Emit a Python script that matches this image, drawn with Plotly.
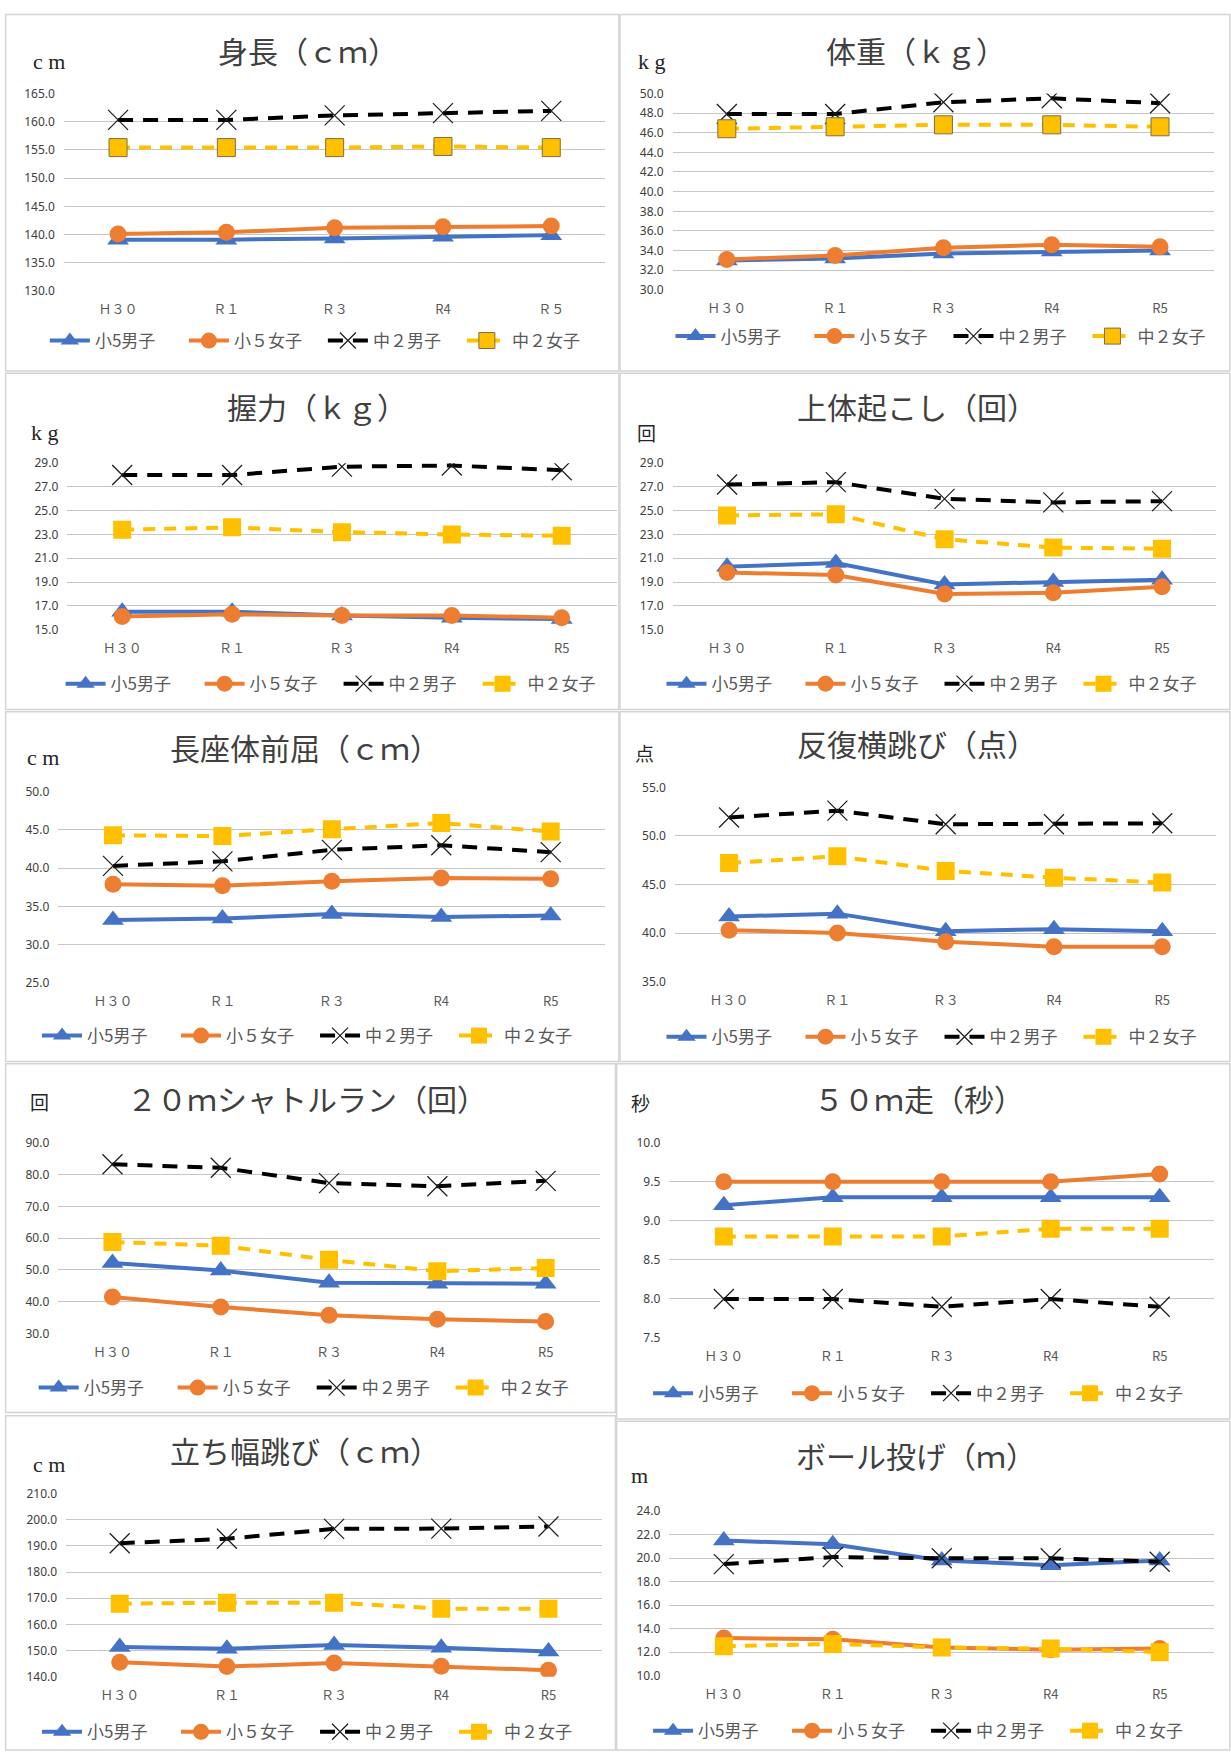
import plotly.graph_objects as go

# ---------------------------------------------------------------------------
# Data: 体力・運動能力調査の推移（学年・性別ごと）
# ---------------------------------------------------------------------------
YEARS = ["Ｈ３０", "Ｒ１", "Ｒ３", "R4", "R5"]
YEARS_HEIGHT = ["Ｈ３０", "Ｒ１", "Ｒ３", "R4", "Ｒ５"]
GROUPS = ["小5男子", "小５女子", "中２男子", "中２女子"]

height_cm = {
    "小5男子": [139.1, 139.1, 139.3, 139.6, 139.9],
    "小５女子": [140.1, 140.4, 141.2, 141.4, 141.5],
    "中２男子": [160.3, 160.3, 161.1, 161.5, 161.9],
    "中２女子": [155.4, 155.4, 155.4, 155.6, 155.4],
}
weight_kg = {
    "小5男子": [33.0, 33.2, 33.7, 33.9, 34.0],
    "小５女子": [33.1, 33.5, 34.3, 34.6, 34.4],
    "中２男子": [47.9, 47.9, 49.1, 49.5, 49.0],
    "中２女子": [46.4, 46.6, 46.8, 46.8, 46.6],
}
grip_kg = {
    "小5男子": [16.5, 16.5, 16.2, 16.0, 15.9],
    "小５女子": [16.1, 16.3, 16.2, 16.2, 16.0],
    "中２男子": [28.0, 28.0, 28.7, 28.8, 28.4],
    "中２女子": [23.4, 23.6, 23.2, 23.0, 22.9],
}
situps = {
    "小5男子": [20.3, 20.6, 18.8, 19.0, 19.2],
    "小５女子": [19.8, 19.6, 18.0, 18.1, 18.6],
    "中２男子": [27.2, 27.4, 26.0, 25.7, 25.8],
    "中２女子": [24.6, 24.7, 22.6, 21.9, 21.8],
}
sit_and_reach_cm = {
    "小5男子": [33.2, 33.4, 34.0, 33.6, 33.8],
    "小５女子": [37.9, 37.7, 38.3, 38.7, 38.6],
    "中２男子": [40.3, 40.9, 42.4, 43.0, 42.1],
    "中２女子": [44.3, 44.2, 45.1, 45.9, 44.8],
}
side_step = {
    "小5男子": [41.7, 42.0, 40.2, 40.4, 40.2],
    "小５女子": [40.3, 40.0, 39.1, 38.6, 38.6],
    "中２男子": [51.9, 52.6, 51.2, 51.2, 51.3],
    "中２女子": [47.2, 47.9, 46.4, 45.7, 45.2],
}
shuttle_run = {
    "小5男子": [52.2, 49.8, 46.0, 45.7, 45.7],
    "小５女子": [41.5, 38.4, 35.8, 34.5, 33.8],
    "中２男子": [83.2, 82.1, 77.3, 76.3, 78.0],
    "中２女子": [58.8, 57.6, 53.2, 49.6, 50.6],
}
dash_50m_sec = {
    "小5男子": [9.2, 9.3, 9.3, 9.3, 9.3],
    "小５女子": [9.5, 9.5, 9.5, 9.5, 9.6],
    "中２男子": [8.0, 8.0, 7.9, 8.0, 7.9],
    "中２女子": [8.8, 8.8, 8.8, 8.9, 8.9],
}
long_jump_cm = {
    "小5男子": [151.4, 150.7, 152.1, 151.1, 149.6],
    "小５女子": [145.5, 143.9, 145.2, 144.0, 142.5],
    "中２男子": [191.0, 192.7, 196.5, 196.6, 197.4],
    "中２女子": [167.9, 168.3, 168.3, 166.0, 166.0],
}
ball_throw_m = {
    "小5男子": [21.5, 21.2, 19.8, 19.4, 19.8],
    "小５女子": [13.2, 13.1, 12.4, 12.2, 12.3],
    "中２男子": [19.5, 20.1, 20.0, 20.0, 19.7],
    "中２女子": [12.5, 12.7, 12.4, 12.3, 12.0],
}

# ---------------------------------------------------------------------------
# Panel definitions: title, unit label, data, axis range, placement
# placement values are in a 1098 x 1568 layout grid (converted to paper units)
# ---------------------------------------------------------------------------
GRID_W, GRID_H = 1098, 1568


def gx(v):
    return v / GRID_W


def gy(v):
    return 1 - v / GRID_H


panels = [
    dict(title="身長（ｃｍ）", unit="c m", unit_serif=True, data=height_cm, cats=YEARS_HEIGHT,
         yr=(130, 165, 5), plot=(57, 540, 76, 254), title_xy=(275, 37), unit_xy=(44, 47),
         legend_xy=(288, 299), outlined=True),
    dict(title="体重（ｋｇ）", unit="k g", unit_serif=True, data=weight_kg, cats=YEARS,
         yr=(30, 50, 2), plot=(600, 1083, 76, 253), title_xy=(817, 37), unit_xy=(582, 47),
         legend_xy=(846, 295), outlined=True),
    dict(title="握力（ｋｇ）", unit="k g", unit_serif=True, data=grip_kg, cats=YEARS,
         yr=(15, 29, 2), plot=(60, 550, 409, 559), title_xy=(283, 358), unit_xy=(40, 381),
         legend_xy=(302, 608), outlined=False),
    dict(title="上体起こし（回）", unit="回", unit_serif=False, data=situps, cats=YEARS,
         yr=(15, 29, 2), plot=(600, 1085, 409, 559), title_xy=(818, 358), unit_xy=(577, 381),
         legend_xy=(838, 608), outlined=False),
    dict(title="長座体前屈（ｃｍ）", unit="c m", unit_serif=True, data=sit_and_reach_cm, cats=YEARS,
         yr=(25, 50, 5), plot=(52, 540, 705, 877), title_xy=(272, 665), unit_xy=(38, 674),
         legend_xy=(281, 925), outlined=False),
    dict(title="反復横跳び（点）", unit="点", unit_serif=False, data=side_step, cats=YEARS,
         yr=(35, 55, 5), plot=(602, 1085, 701, 876), title_xy=(818, 661), unit_xy=(575, 670),
         legend_xy=(838, 926), outlined=False),
    dict(title="２０ｍシャトルラン（回）", unit="回", unit_serif=False, data=shuttle_run, cats=YEARS,
         yr=(30, 90, 10), plot=(52, 535, 1021, 1193), title_xy=(274, 981), unit_xy=(35, 984),
         legend_xy=(278, 1242), outlined=False),
    dict(title="５０ｍ走（秒）", unit="秒", unit_serif=False, data=dash_50m_sec, cats=YEARS,
         yr=(7.5, 10.0, 0.5), plot=(597, 1083, 1021, 1197), title_xy=(820, 981), unit_xy=(571, 985),
         legend_xy=(826, 1247), outlined=False),
    dict(title="立ち幅跳び（ｃｍ）", unit="c m", unit_serif=True, data=long_jump_cm, cats=YEARS,
         yr=(140, 210, 10), plot=(59, 537, 1337, 1502), title_xy=(272, 1298), unit_xy=(44, 1311),
         legend_xy=(281, 1552), outlined=False),
    dict(title="ボール投げ（ｍ）", unit="m", unit_serif=True, data=ball_throw_m, cats=YEARS,
         yr=(10, 24, 2), plot=(597, 1083, 1353, 1501), title_xy=(817, 1302), unit_xy=(570, 1321),
         legend_xy=(826, 1551), outlined=False),
]

# panel frames (x0, x1, y0, y1) in the same layout grid
frames = [
    (5, 552, 5, 326), (553, 1097, 5, 326),
    (5, 552, 328, 631), (553, 1097, 328, 631),
    (5, 552, 633, 948), (553, 1097, 633, 948),
    (5, 549, 950, 1264), (550, 1097, 950, 1270),
    (5, 549, 1267, 1568), (550, 1097, 1272, 1568),
]

# series styling
BLUE, ORANGE, BLACK, GOLD = "#4472C4", "#ED7D31", "#000000", "#FFC000"
JP = "Noto Sans CJK JP"
TEXT = "#404040"
TICK = "#595959"


def series_style(group, outlined):
    if group == "小5男子":
        return dict(line=dict(color=BLUE, width=4),
                    marker=dict(symbol="triangle-up", size=19, color=BLUE))
    if group == "小５女子":
        return dict(line=dict(color=ORANGE, width=4),
                    marker=dict(symbol="circle", size=17, color=ORANGE))
    if group == "中２男子":
        return dict(line=dict(color=BLACK, width=4, dash="15px,10px"),
                    marker=dict(symbol="x-thin", size=20, color=BLACK,
                                line=dict(color="#1a1a1a", width=1.2)))
    return dict(line=dict(color=GOLD, width=4, dash="12px,9px"),
                marker=dict(symbol="square", size=18, color=GOLD,
                            line=dict(color="#7f6f3f" if outlined else GOLD,
                                      width=1 if outlined else 0)))


fig = go.Figure()
layout = dict(
    width=1231, height=1758,
    margin=dict(l=0, r=0, t=0, b=0),
    paper_bgcolor="white", plot_bgcolor="white",
    showlegend=True,
    annotations=[], shapes=[],
)

for i, p in enumerate(panels, start=1):
    sfx = "" if i == 1 else str(i)
    legend_name = "legend" + sfx
    for g in GROUPS:
        st = series_style(g, p["outlined"])
        fig.add_trace(go.Scatter(
            x=p["cats"], y=p["data"][g], name=g, mode="lines+markers",
            xaxis="x" + sfx, yaxis="y" + sfx, legend=legend_name,
            line=st["line"], marker=st["marker"],
        ))

    x0, x1, ytop, ybot = p["plot"]
    ymin, ymax, step = p["yr"]
    layout["xaxis" + sfx] = dict(
        domain=[gx(x0), gx(x1)], anchor="y" + sfx, type="category",
        categoryorder="array", categoryarray=p["cats"],
        range=[-0.5, 4.5], showgrid=False, zeroline=False, showline=False,
        ticks="", ticklabelstandoff=9,
        tickfont=dict(family=JP, size=13, color=TICK), fixedrange=True,
    )
    layout["yaxis" + sfx] = dict(
        domain=[gy(ybot), gy(ytop)], anchor="x" + sfx,
        range=[ymin, ymax], tick0=ymin, dtick=step, tickformat=".1f",
        showgrid=True, gridcolor="#c6c6c6", gridwidth=1,
        zeroline=False, showline=False, ticks="", ticklabelstandoff=8,
        tickfont=dict(family="Noto Sans", size=12, color=TEXT), fixedrange=True,
    )
    lx, ly = p["legend_xy"]
    layout[legend_name] = dict(
        orientation="h", x=gx(lx), y=gy(ly), xanchor="center", yanchor="middle",
        font=dict(family=JP, size=17, color=TICK),
        itemwidth=40, entrywidth=84, entrywidthmode="pixels",
        bgcolor="rgba(0,0,0,0)", traceorder="normal",
        itemclick=False, itemdoubleclick=False,
    )

    tx, ty = p["title_xy"]
    layout["annotations"].append(dict(
        text=p["title"], x=gx(tx), y=gy(ty), xref="paper", yref="paper",
        xanchor="center", yanchor="middle", showarrow=False,
        font=dict(family=JP, size=30, color=TEXT),
    ))
    ux, uy = p["unit_xy"]
    layout["annotations"].append(dict(
        text=p["unit"], x=gx(ux), y=gy(uy), xref="paper", yref="paper",
        xanchor="center", yanchor="middle", showarrow=False,
        font=dict(family="Liberation Serif" if p["unit_serif"] else JP,
                  size=22 if p["unit_serif"] else 19, color="#262626"),
    ))

for (fx0, fx1, fy0, fy1) in frames:
    layout["shapes"].append(dict(
        type="rect", xref="paper", yref="paper",
        x0=gx(fx0), x1=gx(fx1), y0=gy(fy1), y1=gy(fy0),
        line=dict(color="#d4d4d4", width=1.5), fillcolor="rgba(0,0,0,0)", layer="below",
    ))

fig.update_layout(**layout)
fig.write_html("out.html", config={"displayModeBar": False})
